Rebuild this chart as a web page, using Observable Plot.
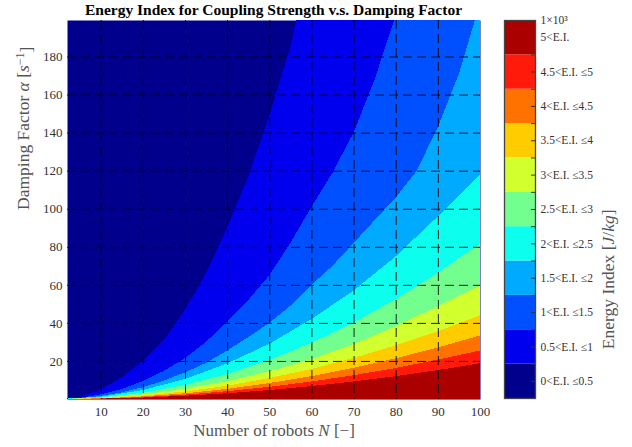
<!DOCTYPE html>
<html><head><meta charset="utf-8">
<script src="https://cdn.jsdelivr.net/npm/d3@7"></script>
<script src="https://cdn.jsdelivr.net/npm/@observablehq/plot@0.6"></script>
<style>
body{margin:0;background:#fff;}
#wrap{position:relative;width:632px;height:447px;font-family:"Liberation Serif",serif;overflow:hidden;}
#main{position:absolute;left:0;top:0;}
#cbar{position:absolute;left:490px;top:0;}
#title{position:absolute;left:67px;width:413px;top:1px;line-height:18px;text-align:center;font-weight:bold;font-size:15.5px;color:#000;white-space:nowrap;}
</style></head><body>
<div id="wrap"><div id="main"></div><div id="cbar"></div><div id="title">Energy Index for Coupling Strength v.s. Damping Factor</div></div>
<script>
// ---- data ----
const xTicks = [10, 20, 30, 40, 50, 60, 70, 80, 90, 100];
const yTicks = [20, 40, 60, 80, 100, 120, 140, 160, 180];
const thresholds = [0.5, 1, 1.5, 2, 2.5, 3, 3.5, 4, 4.5, 5];
const levelLabels = ["0<E.I. ≤0.5", "0.5<E.I. ≤1", "1<E.I. ≤1.5", "1.5<E.I. ≤2", "2<E.I. ≤2.5",
  "2.5<E.I. ≤3", "3<E.I. ≤3.5", "3.5<E.I. ≤4", "4<E.I. ≤4.5", "4.5<E.I. ≤5", "5<E.I."];
const topLabel = "1×10³";
const levelColors = ["#00008C", "#0000EE", "#0050FF", "#00AAFF", "#0CFFEE", "#72FF8E",
  "#D2FF2E", "#FFCC00", "#FF7200", "#FF1A0A", "#AA0000"];

// boundary curves [N, alpha] : above the curve E.I. <= threshold, below it E.I. > threshold
const bound05 = [[0,0],[5,1.3],[10,5],[15,11.5],[20,20],[25,31],[30,47],[35,66],[40,90],[45,117],[50,149],[55,185],[56.4,199.2]];
const bound10 = [[0,0],[5,0.6],[10,2.4],[15,5.3],[20,9.4],[25,14.8],[30,21.5],[35,30],[40,41],[45,52],[50,65],[55,82],[60,101],[65,119],[70,140],[75,168],[79.6,199.2]];
const bound15 = [[0,0],[5,0.4],[10,1.6],[15,3.5],[20,6.2],[25,9.7],[30,14],[35,19],[40,25.5],[45,32.5],[50,40],[55,49],[60,60],[65,70],[70,82],[75,94],[80,106],[85,120],[90,143],[95,171],[98.8,199.2]];
const bound20 = [[0,0],[10,1.2],[20,4.7],[30,10.5],[40,18.7],[50,29],[60,42],[70,57],[80,75],[90,96],[100,118]];
const bound25 = [[0,0],[10,0.8],[20,3.3],[30,7.4],[40,13.1],[50,20.5],[60,29.5],[70,40.2],[80,52.5],[90,66.4],[100,81.6]];
const bound30 = [[0,0],[10,0.6],[20,2.4],[30,5.3],[40,9.4],[50,14.6],[60,21],[70,28.9],[80,38.2],[90,48.8],[100,59.7]];
const bound35 = [[0,0],[10,0.44],[20,1.76],[30,3.96],[40,7.0],[50,11],[60,15.8],[70,21.6],[80,28.2],[90,35.6],[100,44]];
const bound40 = [[0,0],[10,0.33],[20,1.34],[30,3.0],[40,5.3],[50,8.4],[60,12],[70,16.4],[80,21.4],[90,27.1],[100,33.4]];
const bound45 = [[0,0],[10,0.26],[20,1.0],[30,2.3],[40,4.1],[50,6.4],[60,9.2],[70,12.5],[80,16.3],[90,20.7],[100,25.5]];
const bound50 = [[0,0],[10,0.19],[20,0.75],[30,1.7],[40,3.0],[50,4.7],[60,6.8],[70,9.2],[80,12],[90,15.2],[100,18.8]];

// ---- chart ----
const X_DOMAIN = [2, 100];
const Y_DOMAIN = [0, 199.2];
const boundaries = [bound05, bound10, bound15, bound20, bound25, bound30, bound35, bound40, bound45, bound50];
const closeTop = b => b[b.length - 1][0] < X_DOMAIN[1] ? [...b, [X_DOMAIN[1], Y_DOMAIN[1]]] : b;

const font = "'Liberation Serif', 'Times New Roman', serif";
const gridStyle = {stroke: "#000", strokeWidth: 1, strokeOpacity: 0.85, strokeDasharray: "9,5"};

const main = Plot.plot({
  width: 500, height: 447,
  marginLeft: 67, marginRight: 20, marginTop: 20, marginBottom: 48,
  style: {fontFamily: font, fontSize: "13px", color: "#333", background: "transparent"},
  x: {domain: X_DOMAIN},
  y: {domain: Y_DOMAIN},
  marks: [
    Plot.frame({fill: levelColors[0], stroke: null}),
    ...boundaries.map((b, i) => Plot.areaY(closeTop(b), {
      x: d => d[0], y1: Y_DOMAIN[0], y2: d => d[1],
      fill: levelColors[i + 1], curve: "linear", clip: true, shapeRendering: "crispEdges"
    })),
    Plot.ruleX(xTicks.filter(v => v < X_DOMAIN[1]), gridStyle),
    Plot.ruleY(yTicks, gridStyle),
    Plot.axisX(xTicks, {tickSize: 0, tickPadding: 7, fontSize: 13, label: null}),
    Plot.axisY(yTicks, {tickSize: 0, tickPadding: 5, fontSize: 13, label: null}),
    Plot.text(["Number of robots N [−]"], {frameAnchor: "bottom", dy: 36, fontSize: 17, fill: "#555"}),
    Plot.text(["Damping Factor α [s−1]"], {frameAnchor: "left", dx: -44, rotate: -90, fontSize: 17.5, fill: "#555"})
  ]
});
document.getElementById("main").appendChild(main);

// colorbar
const bands = levelColors.map((c, i) => ({lo: i, hi: i + 1, color: c}));
const centers = levelLabels.map((_, i) => i + 0.5);
const cbar = Plot.plot({
  width: 142, height: 447,
  marginLeft: 14, marginRight: 97, marginTop: 20, marginBottom: 49,
  style: {fontFamily: font, fontSize: "11.5px", color: "#333", background: "transparent"},
  x: {domain: [0, 1], axis: null},
  y: {domain: [0, levelColors.length]},
  marks: [
    Plot.rect(bands, {x1: 0, x2: 1, y1: "lo", y2: "hi", fill: "color"}),
    Plot.tickY([...centers, ...d3.range(1, levelColors.length)], {y: d => d, stroke: "#333", strokeWidth: 1, insetLeft: 27}),
    Plot.frame({stroke: "#444", strokeWidth: 1.3}),
    Plot.axisY([...centers, levelColors.length], {anchor: "right", tickSize: 0, tickPadding: 5, fontSize: 11.5,
      tickFormat: v => v === levelColors.length ? topLabel : levelLabels[Math.floor(v)], label: null}),
    Plot.text(["Energy Index [J/kg]"], {frameAnchor: "right", dx: 73, rotate: -90, fontSize: 17.5, fill: "#555"})
  ]
});
document.getElementById("cbar").appendChild(cbar);

// rich text (italic math symbols, superscript)
function rich(svg, str, parts) {
  d3.select(svg).selectAll("text").filter(function () { return this.textContent === str; }).each(function () {
    const t = d3.select(this);
    t.text(null);
    for (const p of parts) {
      const s = t.append("tspan").text(p.t);
      if (p.i) s.attr("font-style", "italic");
      if (p.dy) s.attr("dy", p.dy);
      if (p.fs) s.attr("font-size", p.fs);
    }
  });
}
rich(main, "Number of robots N [−]", [{t: "Number of robots "}, {t: "N", i: 1}, {t: " [−]"}]);
rich(main, "Damping Factor α [s−1]", [{t: "Damping Factor "}, {t: "α", i: 1}, {t: " ["}, {t: "s", i: 1},
  {t: "−1", dy: "-0.45em", fs: "12px"}, {t: "]", dy: "0.45em"}]);
rich(cbar, "Energy Index [J/kg]", [{t: "Energy Index ["}, {t: "J", i: 1}, {t: "/"}, {t: "kg", i: 1}, {t: "]"}]);
</script>
</body></html>
